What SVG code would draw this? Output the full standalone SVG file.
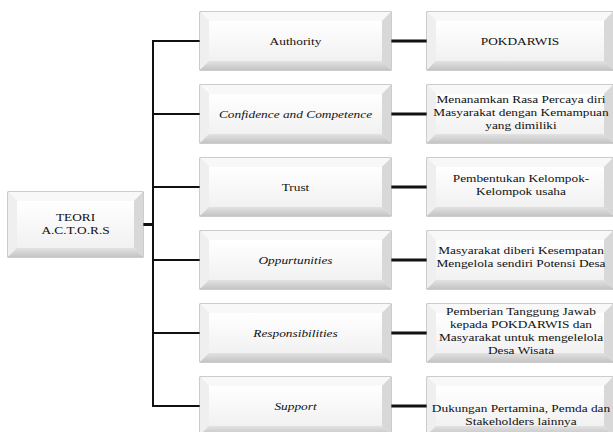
<svg xmlns="http://www.w3.org/2000/svg" width="613" height="432" viewBox="0 0 613 432">
<defs>
<linearGradient id="face" x1="0" y1="0" x2="0" y2="1">
<stop offset="0" stop-color="#ffffff"/><stop offset="1" stop-color="#f1f1f1"/>
</linearGradient>
<linearGradient id="bot" x1="0" y1="0" x2="0" y2="1">
<stop offset="0" stop-color="#e2e2e2"/><stop offset="1" stop-color="#c4c4c4"/>
</linearGradient>
</defs>
<style>
.o{fill:#e8e8e8;stroke:#9a9a9a;stroke-width:1}
.bt{fill:#f8f8f8}
.bl{fill:#efefef}
.br{fill:#d8d8d8}
.bb{fill:url(#bot)}
.f{fill:url(#face)}
text{font-family:"Liberation Serif","Times New Roman",serif;font-size:11.4px;fill:#111;text-anchor:middle}
.i{font-style:italic}
.c{stroke:#111;fill:none}
</style>
<g id="connectors">
<line class="c" x1="153" y1="40" x2="153" y2="407" stroke-width="2"/>
<line class="c" x1="153" y1="41" x2="200" y2="41" stroke-width="2"/>
<line class="c" x1="153" y1="114" x2="200" y2="114" stroke-width="2"/>
<line class="c" x1="153" y1="187" x2="200" y2="187" stroke-width="2"/>
<line class="c" x1="153" y1="260" x2="200" y2="260" stroke-width="2"/>
<line class="c" x1="153" y1="333" x2="200" y2="333" stroke-width="2"/>
<line class="c" x1="153" y1="406" x2="200" y2="406" stroke-width="2"/>
<line class="c" x1="143" y1="224.5" x2="153" y2="224.5" stroke-width="3"/>
<line class="c" x1="391" y1="41" x2="427" y2="41" stroke-width="3"/>
<line class="c" x1="391" y1="114" x2="427" y2="114" stroke-width="3"/>
<line class="c" x1="391" y1="187" x2="427" y2="187" stroke-width="3"/>
<line class="c" x1="391" y1="260" x2="427" y2="260" stroke-width="3"/>
<line class="c" x1="391" y1="333" x2="427" y2="333" stroke-width="3"/>
<line class="c" x1="391" y1="406" x2="427" y2="406" stroke-width="3"/>
</g>
<g id="teori">
<rect class="o" x="8" y="192" width="135" height="65"/>
<polygon class="bt" points="8,192 143,192 134,201 17,201"/>
<polygon class="bl" points="8,192 17,201 17,248 8,257"/>
<polygon class="br" points="143,192 143,257 134,248 134,201"/>
<polygon class="bb" points="8,257 143,257 134,248 17,248"/>
<rect class="f" x="17" y="201" width="117" height="47"/>
<g transform="translate(75.5 0) scale(1.17 1)">
<text x="0" y="221">TEORI</text>
<text x="0" y="234.5">A.C.T.O.R.S</text>
</g>
</g>
<g id="authority">
<rect class="o" x="200" y="12" width="191" height="58"/>
<polygon class="bt" points="200,12 391,12 382,21 209,21"/>
<polygon class="bl" points="200,12 209,21 209,61 200,70"/>
<polygon class="br" points="391,12 391,70 382,61 382,21"/>
<polygon class="bb" points="200,70 391,70 382,61 209,61"/>
<rect class="f" x="209" y="21" width="173" height="40"/>
<text transform="translate(295.5 45) scale(1.17 1)">Authority</text>
</g>
<g id="confidence">
<rect class="o" x="200" y="85" width="191" height="58"/>
<polygon class="bt" points="200,85 391,85 382,94 209,94"/>
<polygon class="bl" points="200,85 209,94 209,134 200,143"/>
<polygon class="br" points="391,85 391,143 382,134 382,94"/>
<polygon class="bb" points="200,143 391,143 382,134 209,134"/>
<rect class="f" x="209" y="94" width="173" height="40"/>
<text class="i" transform="translate(295.5 118) scale(1.17 1)">Confidence and Competence</text>
</g>
<g id="trust">
<rect class="o" x="200" y="158" width="191" height="58"/>
<polygon class="bt" points="200,158 391,158 382,167 209,167"/>
<polygon class="bl" points="200,158 209,167 209,207 200,216"/>
<polygon class="br" points="391,158 391,216 382,207 382,167"/>
<polygon class="bb" points="200,216 391,216 382,207 209,207"/>
<rect class="f" x="209" y="167" width="173" height="40"/>
<text transform="translate(295.5 191) scale(1.17 1)">Trust</text>
</g>
<g id="opportunities">
<rect class="o" x="200" y="231" width="191" height="58"/>
<polygon class="bt" points="200,231 391,231 382,240 209,240"/>
<polygon class="bl" points="200,231 209,240 209,280 200,289"/>
<polygon class="br" points="391,231 391,289 382,280 382,240"/>
<polygon class="bb" points="200,289 391,289 382,280 209,280"/>
<rect class="f" x="209" y="240" width="173" height="40"/>
<text class="i" transform="translate(295.5 264) scale(1.17 1)">Oppurtunities</text>
</g>
<g id="responsibilities">
<rect class="o" x="200" y="304" width="191" height="58"/>
<polygon class="bt" points="200,304 391,304 382,313 209,313"/>
<polygon class="bl" points="200,304 209,313 209,353 200,362"/>
<polygon class="br" points="391,304 391,362 382,353 382,313"/>
<polygon class="bb" points="200,362 391,362 382,353 209,353"/>
<rect class="f" x="209" y="313" width="173" height="40"/>
<text class="i" transform="translate(295.5 337) scale(1.17 1)">Responsibilities</text>
</g>
<g id="support">
<rect class="o" x="200" y="377" width="191" height="58"/>
<polygon class="bt" points="200,377 391,377 382,386 209,386"/>
<polygon class="bl" points="200,377 209,386 209,426 200,435"/>
<polygon class="br" points="391,377 391,435 382,426 382,386"/>
<polygon class="bb" points="200,435 391,435 382,426 209,426"/>
<rect class="f" x="209" y="386" width="173" height="40"/>
<text class="i" transform="translate(295.5 410) scale(1.17 1)">Support</text>
</g>
<g id="pokdarwis">
<rect class="o" x="427" y="12" width="186" height="58"/>
<polygon class="bt" points="427,12 613,12 604,21 436,21"/>
<polygon class="bl" points="427,12 436,21 436,61 427,70"/>
<polygon class="br" points="613,12 613,70 604,61 604,21"/>
<polygon class="bb" points="427,70 613,70 604,61 436,61"/>
<rect class="f" x="436" y="21" width="168" height="40"/>
<text transform="translate(520 45) scale(1.17 1)">POKDARWIS</text>
</g>
<g id="menanamkan">
<rect class="o" x="427" y="85" width="186" height="58"/>
<polygon class="bt" points="427,85 613,85 604,94 436,94"/>
<polygon class="bl" points="427,85 436,94 436,134 427,143"/>
<polygon class="br" points="613,85 613,143 604,134 604,94"/>
<polygon class="bb" points="427,143 613,143 604,134 436,134"/>
<rect class="f" x="436" y="94" width="168" height="40"/>
<g transform="translate(521 0) scale(1.17 1)">
<text x="0" y="103">Menanamkan Rasa Percaya diri</text>
<text x="0" y="116">Masyarakat dengan Kemampuan</text>
<text x="0" y="129">yang dimiliki</text>
</g>
</g>
<g id="pembentukan">
<rect class="o" x="427" y="158" width="186" height="58"/>
<polygon class="bt" points="427,158 613,158 604,167 436,167"/>
<polygon class="bl" points="427,158 436,167 436,207 427,216"/>
<polygon class="br" points="613,158 613,216 604,207 604,167"/>
<polygon class="bb" points="427,216 613,216 604,207 436,207"/>
<rect class="f" x="436" y="167" width="168" height="40"/>
<g transform="translate(521 0) scale(1.17 1)">
<text x="0" y="182">Pembentukan Kelompok-</text>
<text x="0" y="195">Kelompok usaha</text>
</g>
</g>
<g id="kesempatan">
<rect class="o" x="427" y="231" width="186" height="58"/>
<polygon class="bt" points="427,231 613,231 604,240 436,240"/>
<polygon class="bl" points="427,231 436,240 436,280 427,289"/>
<polygon class="br" points="613,231 613,289 604,280 604,240"/>
<polygon class="bb" points="427,289 613,289 604,280 436,280"/>
<rect class="f" x="436" y="240" width="168" height="40"/>
<g transform="translate(521 0) scale(1.17 1)">
<text x="0" y="254">Masyarakat diberi Kesempatan</text>
<text x="0" y="267">Mengelola sendiri Potensi Desa</text>
</g>
</g>
<g id="tanggungjawab">
<rect class="o" x="427" y="304" width="186" height="58"/>
<polygon class="bt" points="427,304 613,304 604,313 436,313"/>
<polygon class="bl" points="427,304 436,313 436,353 427,362"/>
<polygon class="br" points="613,304 613,362 604,353 604,313"/>
<polygon class="bb" points="427,362 613,362 604,353 436,353"/>
<rect class="f" x="436" y="313" width="168" height="40"/>
<g transform="translate(521 0) scale(1.17 1)">
<text x="0" y="315">Pemberian Tanggung Jawab</text>
<text x="0" y="328">kepada POKDARWIS dan</text>
<text x="0" y="341">Masyarakat untuk mengelelola</text>
<text x="0" y="354">Desa Wisata</text>
</g>
</g>
<g id="dukungan">
<rect class="o" x="427" y="377" width="186" height="58"/>
<polygon class="bt" points="427,377 613,377 604,386 436,386"/>
<polygon class="bl" points="427,377 436,386 436,426 427,435"/>
<polygon class="br" points="613,377 613,435 604,426 604,386"/>
<polygon class="bb" points="427,435 613,435 604,426 436,426"/>
<rect class="f" x="436" y="386" width="168" height="40"/>
<g transform="translate(521 0) scale(1.17 1)">
<text x="0" y="412">Dukungan Pertamina, Pemda dan</text>
<text x="0" y="425">Stakeholders lainnya</text>
</g>
</g>
</svg>
